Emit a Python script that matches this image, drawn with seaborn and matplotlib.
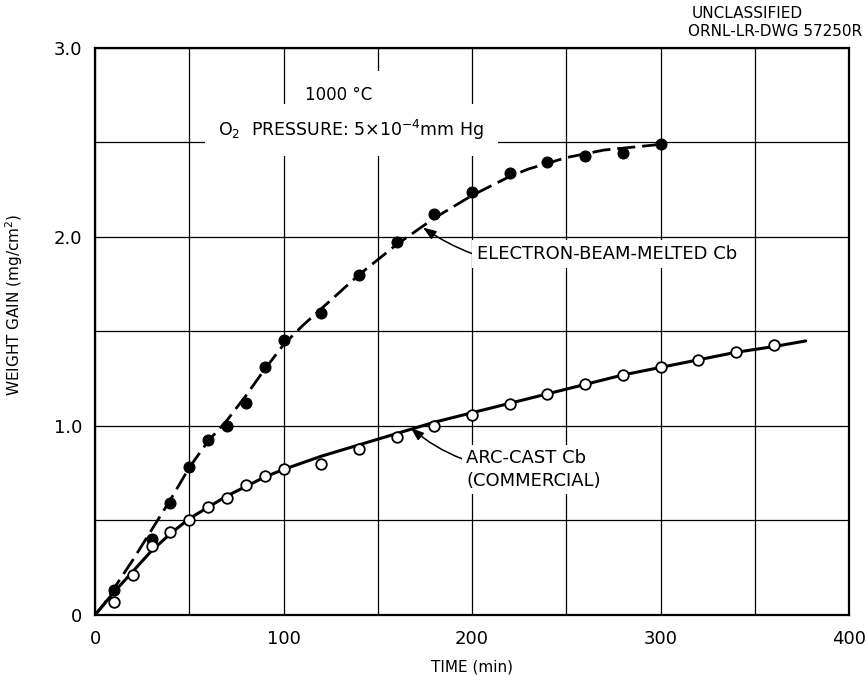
import matplotlib
matplotlib.use("Agg")
import matplotlib.pyplot as plt
import seaborn as sns
import pandas as pd

# ---- data ----
ebm_time = [10, 30, 40, 50, 60, 70, 80, 90, 100, 120, 140, 160, 180, 200, 220, 240, 260, 280, 300]
ebm_gain = [0.13, 0.40, 0.59, 0.785, 0.925, 1.00, 1.12, 1.31, 1.455, 1.60, 1.80, 1.975,
            2.12, 2.24, 2.34, 2.395, 2.43, 2.445, 2.49]

arc_time = [10, 20, 30, 40, 50, 60, 70, 80, 90, 100, 120, 140, 160, 180, 200, 220, 240,
            260, 280, 300, 320, 340, 360]
arc_gain = [0.07, 0.21, 0.365, 0.44, 0.50, 0.57, 0.62, 0.69, 0.735, 0.77, 0.80, 0.88, 0.94,
            1.00, 1.06, 1.115, 1.17, 1.22, 1.27, 1.31, 1.35, 1.39, 1.43]

# hand-drawn fit curves
ebm_curve_time = [0, 5, 10, 20, 30, 40, 50, 60, 70, 80, 90, 100, 110, 120, 130, 140, 150, 160,
                  170, 180, 190, 200, 210, 220, 230, 240, 250, 260, 270, 280, 290, 300]
ebm_curve_gain = [0, 0.06, 0.14, 0.29, 0.45, 0.61, 0.78, 0.92, 1.03, 1.16, 1.30, 1.43, 1.53,
                  1.62, 1.71, 1.80, 1.88, 1.96, 2.03, 2.10, 2.16, 2.22, 2.27, 2.32, 2.36, 2.39,
                  2.42, 2.44, 2.46, 2.47, 2.48, 2.49]

arc_curve_time = [0, 5, 10, 20, 30, 40, 50, 60, 70, 80, 90, 100, 120, 140, 160, 180, 200, 220,
                  240, 260, 280, 300, 320, 340, 360, 377]
arc_curve_gain = [0, 0.06, 0.12, 0.23, 0.34, 0.43, 0.51, 0.57, 0.63, 0.68, 0.73, 0.77, 0.84,
                  0.90, 0.96, 1.02, 1.07, 1.12, 1.17, 1.22, 1.27, 1.31, 1.35, 1.39, 1.42, 1.45]

x_ticks = [0, 50, 100, 150, 200, 250, 300, 350, 400]
x_tick_labels = ["0", "", "100", "", "200", "", "300", "", "400"]
y_ticks = [0, 0.5, 1.0, 1.5, 2.0, 2.5, 3.0]
y_tick_labels = ["0", "", "1.0", "", "2.0", "", "3.0"]

sns.set_style("white")
plt.rcParams['font.family'] = ['DejaVu Sans']
plt.rcParams['text.color'] = 'black'
plt.rcParams['axes.labelcolor'] = 'black'
plt.rcParams['xtick.color'] = 'black'
plt.rcParams['ytick.color'] = 'black'

fig = plt.figure(figsize=(8.67, 6.75), dpi=100)
ax = fig.add_axes([0.1096, 0.0889, 0.8697, 0.84])

sns.lineplot(x=ebm_curve_time, y=ebm_curve_gain, ax=ax, color="black", lw=2.0,
             linestyle=(0, (6.5, 2.5)), sort=False, zorder=2)
sns.lineplot(x=arc_curve_time, y=arc_curve_gain, ax=ax, color="black", lw=2.2,
             sort=False, zorder=2)
sns.scatterplot(x=ebm_time, y=ebm_gain, ax=ax, color="black", edgecolor="black",
                s=62, linewidth=0.8, zorder=4)
sns.scatterplot(x=arc_time, y=arc_gain, ax=ax, color="white", edgecolor="black",
                s=58, linewidth=1.3, zorder=4)

ax.set_xlim(0, 400)
ax.set_ylim(0, 3.0)
ax.set_xticks(x_ticks)
ax.set_xticklabels(x_tick_labels)
ax.set_yticks(y_ticks)
ax.set_yticklabels(y_tick_labels)
ax.tick_params(axis="both", length=0, labelsize=13, colors="black")
ax.tick_params(axis="x", pad=11)
ax.tick_params(axis="y", pad=9)

ax.grid(True, color="black", lw=0.9)
ax.set_axisbelow(True)
for sp in ax.spines.values():
    sp.set_visible(True)
    sp.set_color("black")
    sp.set_linewidth(1.6)

ax.set_xlabel("TIME (min)", fontsize=11, labelpad=8, color="black")
ax.set_ylabel("WEIGHT GAIN (mg/cm$^2$)", fontsize=11, color="black")
ax.yaxis.set_label_coords(-0.093, 0.547)

ax.text(129, 2.75, "1000 °C", fontsize=12, ha="center", va="center", color="black",
        bbox=dict(boxstyle="square,pad=0.9", facecolor="white", edgecolor="none"), zorder=3)
ax.text(65.5, 2.566, "O$_2$  PRESSURE: 5$\\times$10$^{-4}$mm Hg", fontsize=12.5,
        ha="left", va="center", color="black",
        bbox=dict(boxstyle="square,pad=0.8", facecolor="white", edgecolor="none"), zorder=3)

arrow = dict(arrowstyle="-|>,head_length=0.6,head_width=0.22", color="black", lw=1.1,
             shrinkA=0, shrinkB=0)

ax.annotate("ELECTRON-BEAM-MELTED Cb", xy=(174, 2.05), xytext=(202.5, 1.91),
            fontsize=13, ha="left", va="center", zorder=3, color="black",
            bbox=dict(boxstyle="square,pad=0.25", facecolor="white", edgecolor="none"),
            arrowprops=dict(connectionstyle="arc3,rad=-0.25", **arrow))
ax.annotate("ARC-CAST Cb\n(COMMERCIAL)", xy=(167.5, 0.99), xytext=(197, 0.77),
            fontsize=13, ha="left", va="center", linespacing=1.3, zorder=3, color="black",
            bbox=dict(boxstyle="square,pad=0.25", facecolor="white", edgecolor="none"),
            arrowprops=dict(connectionstyle="arc3,rad=-0.2", **arrow))

fig.text(747 / 867, 1 - 14 / 675, "UNCLASSIFIED", fontsize=11, ha="center", va="center",
         color="black")
fig.text(862 / 867, 1 - 32 / 675, "ORNL-LR-DWG 57250R", fontsize=11, ha="right",
         va="center", color="black")

fig.savefig("out.png", dpi=100, facecolor="white")
